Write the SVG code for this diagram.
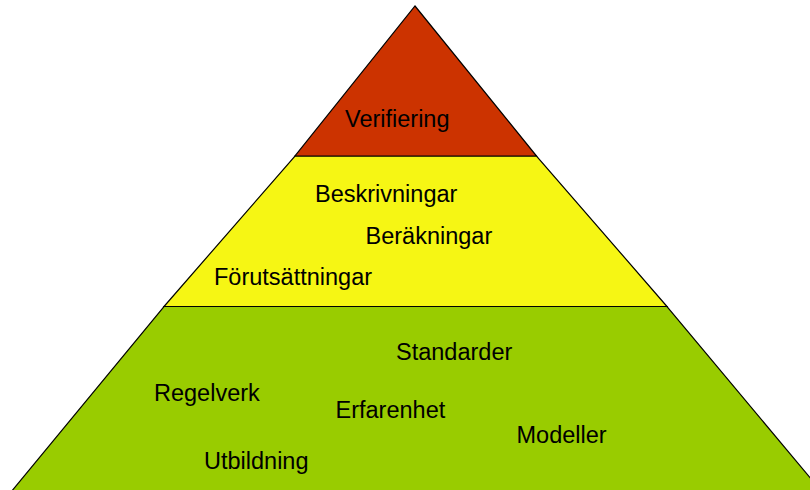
<svg xmlns="http://www.w3.org/2000/svg" width="810" height="490" viewBox="0 0 810 490">
<style>
.layer{stroke:#000;stroke-width:1.2;stroke-linejoin:miter}
.lbl{font-family:"Liberation Sans",Arial,sans-serif;font-size:23.5px;fill:#000}
</style>
<rect width="810" height="490" fill="#fff"/>
<g id="bottom-layer">
<polygon class="layer" fill="#99CC00" points="164,306.5 667,306.5 822,492 11,492"/>
<text class="lbl" x="396" y="360">Standarder</text>
<text class="lbl" x="154" y="401">Regelverk</text>
<text class="lbl" x="335.5" y="417.5">Erfarenhet</text>
<text class="lbl" x="516.5" y="442.5">Modeller</text>
<text class="lbl" x="204" y="468.5">Utbildning</text>
</g>
<g id="middle-layer">
<polygon class="layer" fill="#F6F614" points="295,156 536.5,156 667,306.5 164,306.5"/>
<text class="lbl" x="315" y="201.5">Beskrivningar</text>
<text class="lbl" x="365.5" y="243.5">Beräkningar</text>
<text class="lbl" x="214" y="285">Förutsättningar</text>
</g>
<g id="top-layer">
<polygon class="layer" fill="#CC3300" points="415,6 536.5,156 295,156"/>
<text class="lbl" x="345" y="126.7">Verifiering</text>
</g>
</svg>
